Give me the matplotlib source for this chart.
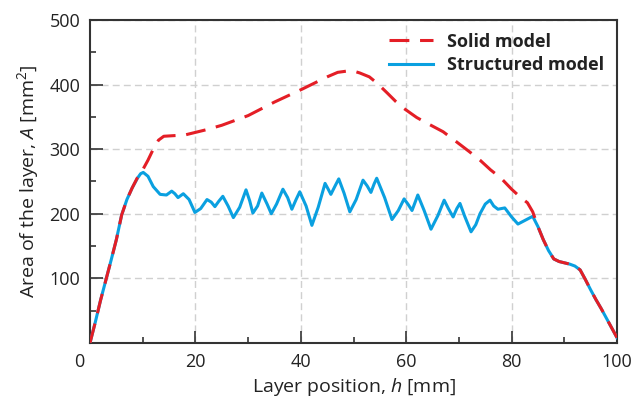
import numpy as np
from matplotlib import pyplot as plt
from matplotlib.ticker import MultipleLocator

plt.rcParams['font.family'] = ['Open Sans', 'DejaVu Sans']
plt.rcParams['mathtext.fontset'] = 'custom'
plt.rcParams['mathtext.rm'] = 'Open Sans'
plt.rcParams['mathtext.it'] = 'Open Sans:italic'

# solid model
solid_h = [0, 1, 2, 3, 4, 5, 6, 7, 8, 9, 10, 11, 12, 13, 14, 16, 18, 20, 22, 25,
           30, 35, 40, 43, 45, 47, 48.8, 50, 51.2, 53, 54.5, 56.4, 58, 59.4, 62, 64,
           67, 69.6, 72, 74, 76, 78, 80, 81.6, 83, 84, 85, 86, 87, 88, 89, 90, 91,
           92, 93, 94, 95, 96, 97, 98, 99, 100]
solid_A = [0, 32, 66, 97, 128, 160, 198, 222, 240, 256, 268, 283, 300, 314, 320, 321, 322, 326, 330, 337,
           352, 373, 392, 404, 412, 419, 421, 421, 418, 412, 402, 387, 374, 364, 349, 340,
           327, 311, 296, 283, 268, 255, 238, 226, 217, 203, 180, 160, 143, 130, 126, 124, 122,
           119, 113, 98, 82, 67, 53, 38, 23, 8]

# structured model
struct_h = [0, 1, 2, 3, 4, 5, 6, 7, 8, 9, 9.6, 10.1, 11, 12, 13.3, 14.5, 15.5, 16.1, 16.7,
            17.7, 18.8, 19.9, 21, 22.2, 23, 23.7, 24.4, 25.2, 26.2, 27.2, 28.4, 29.6, 30.3,
            30.9, 31.8, 32.6, 33.6, 34.4, 35.4, 36.6, 37.5, 38.3, 39.1, 39.8, 41, 42.1, 43.3,
            44.6, 45.2, 45.7, 46.5, 47.2, 48.2, 49.3, 50.5, 51.8, 52.6, 53.3, 53.9, 54.4, 55.9,
            57.3, 58.5, 59.6, 60.4, 61.1, 61.7, 62.2, 63.4, 64.7, 66, 67.2, 68, 68.9, 69.6,
            70.2, 71.1, 72.3, 73.2, 74, 75, 75.9, 76.6, 77.4, 78.7, 80, 81.2, 82.6, 84, 85,
            86, 87, 88, 89, 90, 91, 92, 93, 94, 95, 96, 97, 98, 99, 100]
struct_A = [0, 32, 66, 97, 128, 160, 198, 222, 240, 255, 262, 264, 258, 242, 230, 229, 235, 231, 225,
            231, 222, 202, 208, 222, 218, 211, 219, 227, 212, 194, 210, 237, 220,
            201, 212, 232, 215, 200, 215, 238, 225, 207, 222, 234, 212, 182, 210,
            247, 238, 230, 243, 254, 232, 203, 222, 252, 243, 233, 246, 255, 225,
            191, 205, 223, 214, 205, 218, 229, 205, 176, 197, 221, 208, 195, 208,
            216, 196, 172, 183, 200, 215, 221, 212, 207, 209, 195, 184, 190, 196, 180,
            160, 143, 130, 126, 124, 122, 119, 113, 98, 82, 67, 53, 38, 23, 8]

fig = plt.figure(figsize=(6.43, 4.01), dpi=100)
ax = fig.add_axes([0.14, 0.145, 0.8196, 0.805])

ax.plot(struct_h, struct_A, color='#0AA0E0', lw=2.2, label='Structured model', zorder=3,
        solid_joinstyle='round')
ax.plot(solid_h, solid_A, color='#E41E26', lw=2.2, dashes=(6.5, 3.5), label='Solid model', zorder=4)

ax.set_xlim(0, 100)
ax.set_ylim(0, 500)
ax.xaxis.set_major_locator(MultipleLocator(20))
ax.xaxis.set_minor_locator(MultipleLocator(10))
ax.yaxis.set_major_locator(MultipleLocator(100))
ax.yaxis.set_minor_locator(MultipleLocator(50))
ax.grid(True, which='major', color='#d0d0d0', ls=(0, (5, 3)), lw=1.0)
ax.tick_params(which='major', direction='in', length=9, width=1.2, color='#333333',
               labelsize=13, labelcolor='#222222', pad=7)
ax.tick_params(which='minor', direction='in', length=4.5, width=1.2, color='#333333')
for s in ax.spines.values():
    s.set_color('#333333')
    s.set_linewidth(1.5)

ax.set_xticks([20, 40, 60, 80, 100])
ax.set_yticks([100, 200, 300, 400, 500])
ax.annotate('0', xy=(0, 0), xycoords='axes fraction', xytext=(-8, -7), textcoords='offset points',
            ha='center', va='top', fontsize=13, color='#222222')

ax.set_xlabel('Layer position, $h$ [mm]', fontsize=14, color='#222222', labelpad=4)
ax.set_ylabel('Area of the layer, $A$ [mm$^2$]', fontsize=14, color='#222222', labelpad=6)

handles, labels = ax.get_legend_handles_labels()
leg = ax.legend(handles[::-1], labels[::-1], loc='upper right', frameon=False,
                prop={'weight': 'bold', 'size': 13}, handlelength=2.4, borderaxespad=0.3,
                labelspacing=0.3)
for t in leg.get_texts():
    t.set_color('#222222')

fig.savefig('out.png', dpi=100)
